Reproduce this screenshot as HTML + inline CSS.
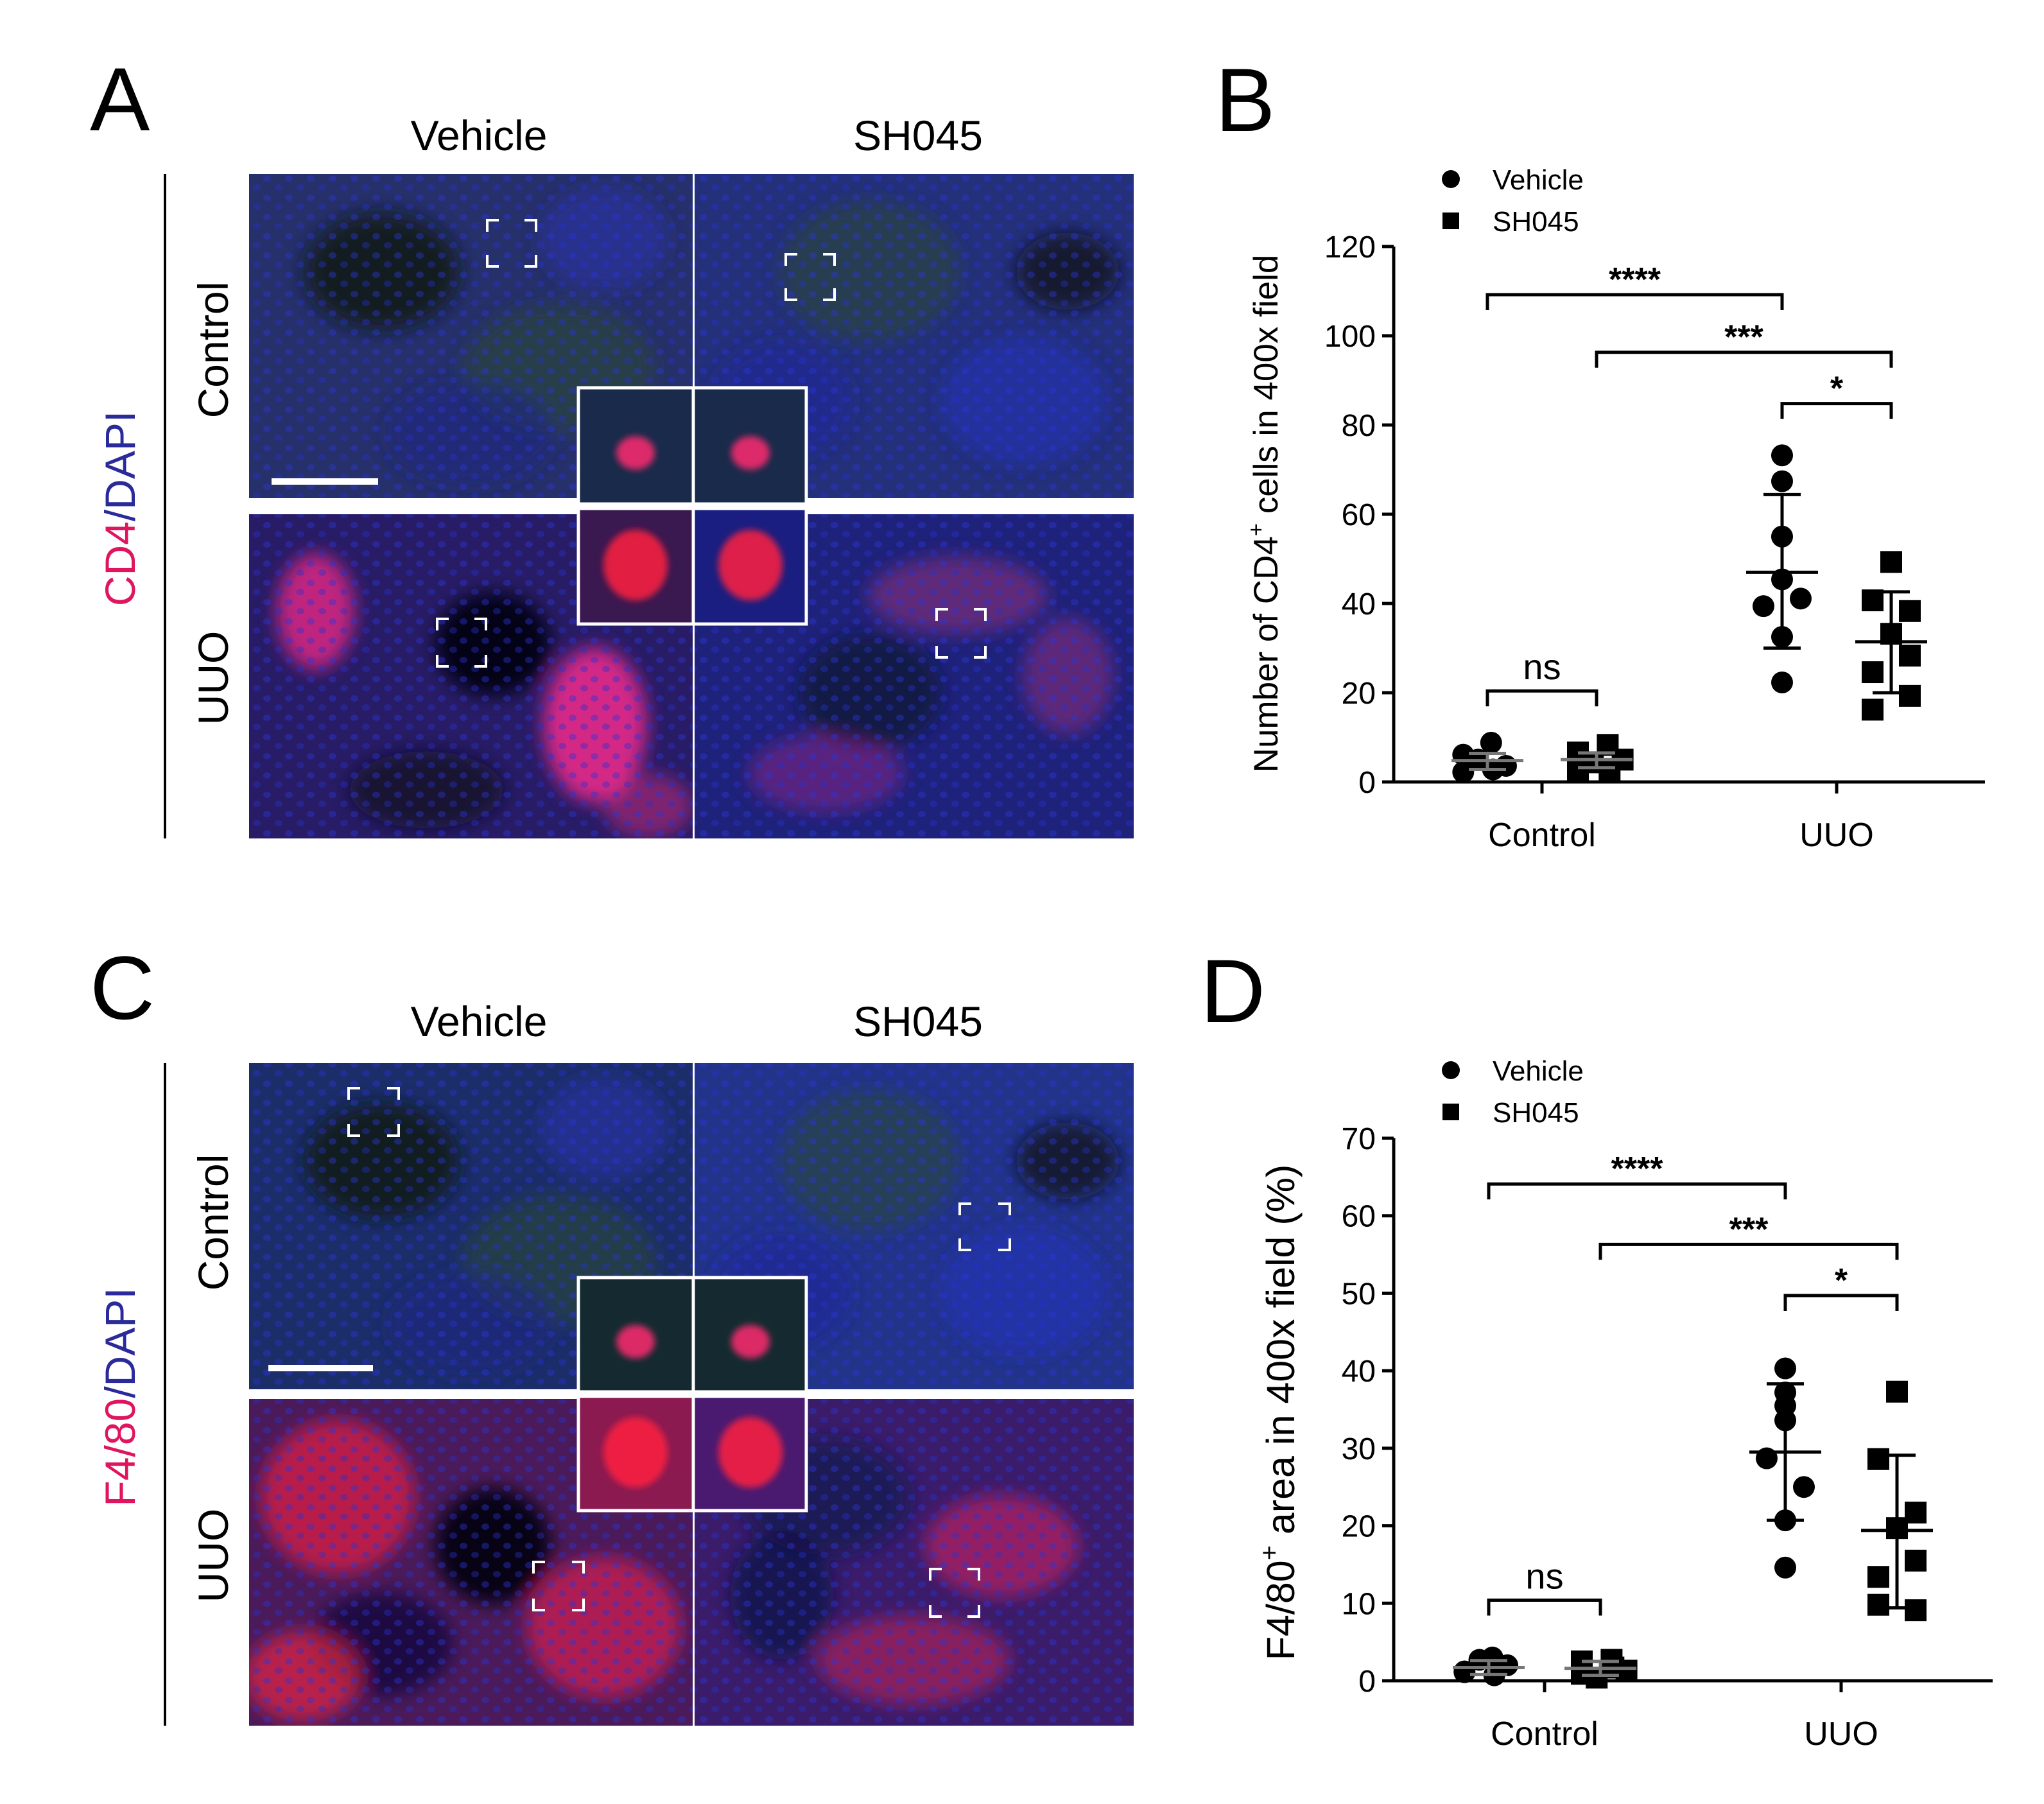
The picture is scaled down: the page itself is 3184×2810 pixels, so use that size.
<!DOCTYPE html>
<html><head><meta charset="utf-8"><style>
html,body{margin:0;padding:0;background:#fff}
svg{display:block;font-family:"Liberation Sans",Arial,sans-serif}
</style></head><body>
<svg id="fig" width="3184" height="2810" viewBox="0 0 3184 2810" xmlns="http://www.w3.org/2000/svg">
<defs>
<filter id="blur" x="-20%" y="-20%" width="140%" height="140%"><feGaussianBlur stdDeviation="14"/></filter>
<filter id="blur2" x="-20%" y="-20%" width="140%" height="140%"><feGaussianBlur stdDeviation="5"/></filter>
<pattern id="nuc" width="34" height="30" patternUnits="userSpaceOnUse">
<ellipse cx="8" cy="8" rx="6" ry="5" fill="#2a35d8" opacity="0.75"/>
<ellipse cx="26" cy="22" rx="6" ry="5" fill="#2630d0" opacity="0.7"/>
</pattern>
<clipPath id="clipA"><rect x="388" y="271" width="1378" height="1035"/></clipPath>
<clipPath id="clipC"><rect x="388" y="1656" width="1378" height="1032"/></clipPath>
</defs>
<g id="photos"></g>
<g id="chartB"></g>
<g id="chartD"></g>
</svg>
<script>
// ---------- Chart B data ----------
const catsB = ["Control", "UUO"];
const ticksB = [0, 20, 40, 60, 80, 100, 120];
const bVehCtrl = [6.1, 8.8, 2.2, 5.0, 2.8, 3.6];
const bShCtrl = [6.6, 8.3, 2.2, 4.4, 2.8, 5.0];
const bVehUuo = [73.2, 67.4, 55.0, 45.4, 39.4, 41.1, 32.5, 22.3];
const bShUuo = [49.3, 40.7, 38.3, 33.2, 28.3, 24.6, 19.3, 16.2];
const bMean = [4.8, 5.0, 47.0, 31.4];
const bSdHi = [6.4, 6.5, 64.4, 42.6];
const bSdLo = [2.8, 3.2, 30.0, 20.0];
const bBrackets = [109.2, 96.3, 84.8, 20.4];
const bStars = ["****", "***", "*", "ns"];
// ---------- Chart D data ----------
const catsD = ["Control", "UUO"];
const ticksD = [0, 10, 20, 30, 40, 50, 60, 70];
const dVehCtrl = [1.2, 3.0, 1.1, 2.7, 0.7, 2.0];
const dShCtrl = [0.9, 2.7, 2.5, 0.4, 1.7, 1.3];
const dVehUuo = [40.3, 37.2, 35.5, 33.6, 28.7, 25.0, 20.7, 14.6];
const dShUuo = [37.3, 28.6, 21.7, 19.7, 15.5, 13.4, 9.1, 9.8];
const dMean = [1.7, 1.6, 29.5, 19.4];
const dSdHi = [2.6, 2.5, 38.3, 29.1];
const dSdLo = [0.8, 0.7, 20.7, 9.4];
const dBrackets = [64.1, 56.3, 49.7, 10.4];
const dStars = ["****", "***", "*", "ns"];
// jitter (in marker units) per point
const jitCtrlVeh = [-1.3, 0.2, -1.3, -0.5, 0.3, 1.0];
const jitCtrlSh = [-1.0, 0.6, -1.0, -0.2, 0.7, 1.4];
const jitUuo = [0, 0, 0, 0, -1, 1, 0, 0];
const jitUuoSh = [0, -1, 1, 0, 1, -1, 1, -1];

const NS = "http://www.w3.org/2000/svg";
function mk(tag, attrs, parent, text) {
  const e = document.createElementNS(NS, tag);
  for (const k in attrs) e.setAttribute(k, attrs[k]);
  if (text !== undefined) e.textContent = text;
  parent.appendChild(e);
  return e;
}

function drawChart(g, cfg) {
  const y = v => cfg.y0 - (v - cfg.vmin) / (cfg.vmax - cfg.vmin) * (cfg.y0 - cfg.ytop);
  const cx = (ci, side) => cfg.catX[ci] + side * cfg.off;
  const L = mk("text", {x: cfg.letterX, y: cfg.letterY, "font-size": 140}, g, cfg.letter);
  
  
  const ya = mk("line", {x1: cfg.x0, y1: cfg.y0, x2: cfg.x0, y2: y(cfg.vmax), stroke: "#000", "stroke-width": 5}, g);
  
  
  const xa = mk("line", {x1: cfg.x0 - 18, y1: cfg.y0, x2: cfg.x1, y2: cfg.y0, stroke: "#000", "stroke-width": 5}, g);
  
  
  cfg.ticks.forEach(t => {
    const tl = mk("line", {x1: cfg.x0 - 18, y1: y(t), x2: cfg.x0, y2: y(t), stroke: "#000", "stroke-width": 5}, g);
    
    
    const tt = mk("text", {x: cfg.x0 - 28, y: y(t) + 17, "font-size": 48, "text-anchor": "end"}, g, String(t));
    
    
  });
  cfg.cats.forEach((c, i) => {
    const tl = mk("line", {x1: cfg.catX[i], y1: cfg.y0, x2: cfg.catX[i], y2: cfg.y0 + 18, stroke: "#000", "stroke-width": 5}, g);
    
    
    const tt = mk("text", {x: cfg.catX[i], y: cfg.y0 + 100, "font-size": 52, "text-anchor": "middle"}, g, c);
    
    
  });
  const at = mk("text", {x: 0, y: 0, "font-size": cfg.titleSize, "text-anchor": "middle", transform: `translate(${cfg.titleX},${cfg.titleY}) rotate(-90)`}, g);
  
  
  mk("tspan", {}, at, cfg.title1);
  mk("tspan", {"font-size": cfg.titleSize * 0.65, dy: -cfg.titleSize * 0.42}, at, "+");
  mk("tspan", {dy: cfg.titleSize * 0.42}, at, cfg.title2);
  const lc = mk("circle", {cx: 2260, cy: cfg.legY, r: 14, fill: "#000"}, g);
  
  
  const lt = mk("text", {x: 2325, y: cfg.legY + 16, "font-size": 44}, g, "Vehicle");
  
  
  const ls = mk("rect", {x: 2247, y: cfg.legY + 65 - 13, width: 26, height: 26, fill: "#000"}, g);
  
  
  const lt2 = mk("text", {x: 2325, y: cfg.legY + 65 + 16, "font-size": 44}, g, "SH045");
  
  
  const groups = [[cfg.s[0], 0, -1, jitCtrlVeh, "circle"], [cfg.s[1], 0, 1, jitCtrlSh, "square"],
                  [cfg.s[2], 1, -1, jitUuo, "circle"], [cfg.s[3], 1, 1, jitUuoSh, "square"]];
  groups.forEach((gr, gi) => {
    const [vals, ci, side, jit, shape] = gr;
    const base = cx(ci, side);
    vals.forEach((v, i) => {
      const px = base + (jit[i] || 0) * cfg.jit;
      let m;
      if (shape === "circle") m = mk("circle", {cx: px, cy: y(v), r: 17, fill: "#000"}, g);
      else m = mk("rect", {x: px - 17, y: y(v) - 17, width: 34, height: 34, fill: "#000"}, g);
      
      
    });
    const mw = 56, cw = 29;
    const col = gi < 2 ? "#777" : "#000";
    const ml = mk("line", {x1: base - mw, x2: base + mw, y1: y(cfg.mean[gi]), y2: y(cfg.mean[gi]), stroke: col, "stroke-width": 5}, g);
    
    
    const sd = mk("path", {d: `M${base},${y(cfg.hi[gi])}V${y(cfg.lo[gi])}M${base - cw},${y(cfg.hi[gi])}H${base + cw}M${base - cw},${y(cfg.lo[gi])}H${base + cw}`,
      stroke: col, "stroke-width": 5, fill: "none"}, g);
    
    
  });
  const pairs = [[[0, -1], [1, -1]], [[0, 1], [1, 1]], [[1, -1], [1, 1]], [[0, -1], [0, 1]]];
  pairs.forEach((p, i) => {
    const xa1 = cx(p[0][0], p[0][1]), xb = cx(p[1][0], p[1][1]);
    const yy = y(cfg.br[i]);
    const b = mk("path", {d: `M${xa1},${yy + 24}V${yy}H${xb}V${yy + 24}`, stroke: "#000", "stroke-width": 5, fill: "none"}, g);
    
    
    const isNs = cfg.stars[i] === "ns";
    const st = mk("text", {x: (xa1 + xb) / 2, y: yy - (isNs ? 18 : 6), "font-size": isNs ? 56 : 52, "font-weight": isNs ? "normal" : "bold", "text-anchor": "middle"}, g, cfg.stars[i]);
    
    
  });
}

drawChart(document.getElementById("chartB"), {
  letter: "B", letterX: 1893, letterY: 204, x0: 2171, x1: 3092, y0: 1218, ytop: 384, vmin: 0, vmax: 120,
  ticks: ticksB, cats: catsB, catX: [2402, 2861], off: 85, jit: 29,
  titleX: 1990, titleY: 800, titleSize: 53, title1: "Number of CD4", title2: " cells in 400x field", legY: 279,
  s: [bVehCtrl, bShCtrl, bVehUuo, bShUuo], mean: bMean, hi: bSdHi, lo: bSdLo, br: bBrackets, stars: bStars
});
drawChart(document.getElementById("chartD"), {
  letter: "D", letterX: 1870, letterY: 1592, x0: 2171, x1: 3104, y0: 2618, ytop: 1773, vmin: 0, vmax: 70,
  ticks: ticksD, cats: catsD, catX: [2406, 2868], off: 87, jit: 29,
  titleX: 2016, titleY: 2200, titleSize: 61, title1: "F4/80", title2: " area in 400x field (%)", legY: 1667,
  s: [dVehCtrl, dShCtrl, dVehUuo, dShUuo], mean: dMean, hi: dSdHi, lo: dSdLo, br: dBrackets, stars: dStars
});

// ---------- Micrograph panels (decorative) ----------
const P = document.getElementById("photos");
function panelSet(o) {
  const g = mk("g", {}, P);
  
  
  const L = mk("text", {x: o.letterX, y: o.letterY, "font-size": 140}, g, o.letter);
  
  
  const t1 = mk("text", {x: 746, y: o.headY, "font-size": 66, "text-anchor": "middle"}, g, "Vehicle");
  
  
  const t2 = mk("text", {x: 1430, y: o.headY, "font-size": 66, "text-anchor": "middle"}, g, "SH045");
  
  
  const vl = mk("line", {x1: 257, x2: 257, y1: o.top, y2: o.bot, stroke: "#000", "stroke-width": 4}, g);
  
  
  const r1 = mk("text", {"font-size": 66, "text-anchor": "middle", transform: `translate(355,${o.ctrlY}) rotate(-90)`}, g, "Control");
  
  
  const r2 = mk("text", {"font-size": 66, "text-anchor": "middle", transform: `translate(355,${o.uuoY}) rotate(-90)`}, g, "UUO");
  
  
  const st = mk("text", {"font-size": 66, "text-anchor": "middle", transform: `translate(210,${o.stainY}) rotate(-90)`}, g);
  
  
  mk("tspan", {fill: "#e0155f"}, st, o.stain);
  mk("tspan", {fill: "#2a2a9a"}, st, "/DAPI");
  const img = mk("g", {"clip-path": `url(#${o.clip})`}, g);
  const rows = [[o.top, o.div1, o.ctrlBg], [o.div2, o.bot, o.uuoBg]];
  rows.forEach((r, ri) => {
    [[388, 1079], [1081, 1766]].forEach((c, ci) => {
      const im = mk("g", {}, img);
      
      
      mk("rect", {x: c[0], y: r[0], width: c[1] - c[0], height: r[1] - r[0], fill: r[2][ci]}, im);
      const bl = mk("g", {filter: "url(#blur)"}, im);
      o.blobs[ri][ci].forEach(b => mk("ellipse", {cx: c[0] + b[0] * (c[1] - c[0]), cy: r[0] + b[1] * (r[1] - r[0]), rx: b[2], ry: b[3], fill: b[4], opacity: b[5]}, bl));
      mk("rect", {x: c[0], y: r[0], width: c[1] - c[0], height: r[1] - r[0], fill: "url(#nuc)", opacity: 0.55}, im);
    });
  });
  mk("rect", {x: 388, y: o.div1, width: 1378, height: o.div2 - o.div1, fill: "#fff"}, g);
  mk("rect", {x: 1079, y: o.top, width: 3, height: o.bot - o.top, fill: "#fff"}, g);
  const ins = mk("g", {}, g);
  
  
  const iy = o.insetTop, ih = o.insetBot - o.insetTop, mid = (o.div1 + o.div2) / 2;
  [[901, 1079], [1082, 1256]].forEach((c, ci) => {
    mk("rect", {x: c[0], y: iy, width: c[1] - c[0], height: mid - iy, fill: o.insetBg[0][ci]}, ins);
    mk("rect", {x: c[0], y: mid, width: c[1] - c[0], height: iy + ih - mid, fill: o.insetBg[1][ci]}, ins);
    const bl = mk("g", {filter: "url(#blur2)"}, ins);
    mk("ellipse", {cx: (c[0] + c[1]) / 2, cy: iy + (mid - iy) * 0.55, rx: 30, ry: 26, fill: "#ff2a70", opacity: 0.85}, bl);
    mk("ellipse", {cx: (c[0] + c[1]) / 2, cy: mid + (iy + ih - mid) * 0.5, rx: 50, ry: 55, fill: "#ff1e40", opacity: 0.85}, bl);
  });
  mk("rect", {x: 901, y: iy, width: 355, height: ih, fill: "none", stroke: "#fff", "stroke-width": 5}, ins);
  mk("line", {x1: 1080, x2: 1080, y1: iy, y2: iy + ih, stroke: "#fff", "stroke-width": 5}, ins);
  mk("line", {x1: 901, x2: 1256, y1: mid, y2: mid, stroke: "#fff", "stroke-width": 12}, ins);
  const sb = mk("line", {x1: o.sb[0], x2: o.sb[1], y1: o.sb[2], y2: o.sb[2], stroke: "#fff", "stroke-width": 10}, g);
  
  
  o.boxes.forEach(b => {
    const [x1, y1, x2, y2] = b, k = 18;
    const p = mk("path", {d: `M${x1},${y1 + k}V${y1}H${x1 + k}M${x2 - k},${y1}H${x2}V${y1 + k}M${x2},${y2 - k}V${y2}H${x2 - k}M${x1 + k},${y2}H${x1}V${y2 - k}`,
      stroke: "#fff", "stroke-width": 4, fill: "none"}, g);
    
    
  });
}

const ctrlBlobs = [[[0.3, 0.3, 120, 90, "#0e1a10", 0.8], [0.7, 0.6, 150, 100, "#2c4a2a", 0.5], [0.5, 0.8, 130, 80, "#1b2a80", 0.6], [0.8, 0.2, 100, 80, "#2830b0", 0.5]],
                   [[0.4, 0.3, 140, 110, "#2c4a2a", 0.5], [0.2, 0.7, 110, 90, "#1e2a9a", 0.6], [0.75, 0.7, 130, 100, "#2430c0", 0.5], [0.85, 0.3, 80, 60, "#0e1510", 0.7]]];
panelSet({
  name: "panel-a-cd4", letter: "A", letterX: 140, letterY: 203, headY: 234, top: 271, div1: 776, div2: 801, bot: 1306,
  ctrlY: 545, uuoY: 1056, stainY: 792, stain: "CD4", clip: "clipA",
  ctrlBg: ["#26306a", "#24307a"], uuoBg: ["#281c66", "#1f227a"],
  blobs: [ctrlBlobs,
    [[[0.15, 0.3, 60, 90, "#ff2a8a", 0.7], [0.55, 0.4, 90, 80, "#050510", 0.9], [0.78, 0.65, 80, 120, "#ff2a90", 0.8], [0.4, 0.85, 120, 60, "#0a0a20", 0.7], [0.9, 0.9, 70, 50, "#ff3080", 0.4]],
     [[0.6, 0.25, 140, 60, "#b0307a", 0.45], [0.4, 0.55, 110, 90, "#0a1a3a", 0.8], [0.3, 0.8, 120, 60, "#b02a8a", 0.4], [0.85, 0.5, 70, 90, "#d0307a", 0.35]]]],
  insetTop: 604, insetBot: 972, insetBg: [["#1a2a4a", "#1a2a4a"], ["#3a1850", "#1a1e80"]],
  sb: [423, 589, 750],
  boxes: [[759, 343, 835, 415], [1224, 396, 1300, 467], [681, 964, 757, 1038], [1459, 949, 1535, 1024]]
});
panelSet({
  name: "panel-c-f480", letter: "C", letterX: 140, letterY: 1587, headY: 1614, top: 1656, div1: 2164, div2: 2179, bot: 2688,
  ctrlY: 1904, uuoY: 2423, stainY: 2176, stain: "F4/80", clip: "clipC",
  ctrlBg: ["#1c2e6a", "#22348a"], uuoBg: ["#4a1a5a", "#3a1c6a"],
  blobs: [ctrlBlobs,
    [[[0.2, 0.3, 120, 120, "#ff2040", 0.6], [0.55, 0.45, 90, 90, "#050508", 0.9], [0.3, 0.75, 110, 80, "#0a0a30", 0.6], [0.8, 0.7, 120, 110, "#ff2050", 0.55], [0.12, 0.85, 90, 70, "#ff2a40", 0.6]],
     [[0.3, 0.3, 130, 90, "#101850", 0.7], [0.7, 0.45, 120, 80, "#ff2060", 0.45], [0.5, 0.8, 150, 70, "#ff2050", 0.4], [0.2, 0.6, 80, 100, "#0a1040", 0.6]]]],
  insetTop: 1990, insetBot: 2353, insetBg: [["#142a30", "#142a30"], ["#8a1a50", "#4a1a70"]],
  sb: [418, 581, 2131],
  boxes: [[543, 1695, 621, 1769], [1495, 1875, 1573, 1947], [831, 2433, 909, 2508], [1449, 2444, 1525, 2518]]
});
</script>
</body></html>
